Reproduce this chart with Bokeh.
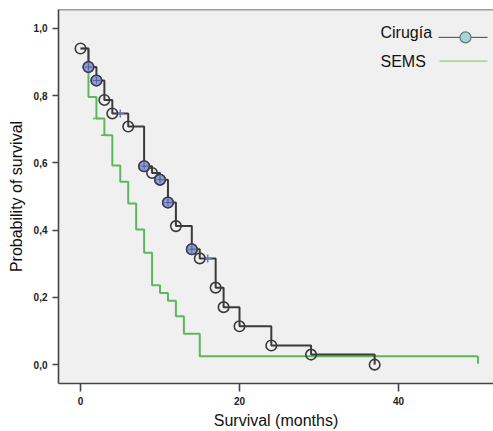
from bokeh.plotting import figure
from bokeh.models import Range1d, FixedTicker, CustomJSTickFormatter, Span
from bokeh.core.properties import value
from bokeh.embed import file_html
from bokeh.resources import INLINE

# ---------------- data ----------------
series_names = ["Cirugía", "SEMS"]

cir_times = [0, 1, 2, 3, 4, 6, 8, 9, 10, 11, 12, 14, 15, 17, 18, 20, 24, 29, 37]
cir_surv = [0.94, 0.885, 0.845, 0.787, 0.747, 0.708, 0.59, 0.57, 0.55, 0.482,
            0.412, 0.343, 0.316, 0.229, 0.171, 0.114, 0.057, 0.03, 0.0]
cir_marked_times = [1, 2, 8, 10, 11, 14]          # events with a censor mark on top
cir_censor_times = [5, 16]
cir_censor_surv = [0.747, 0.316]

sems_times = [0, 1, 2, 3, 4, 5, 6, 7, 8, 9, 10, 11, 12, 13, 15, 50]
sems_surv = [0.94, 0.796, 0.732, 0.682, 0.592, 0.544, 0.479, 0.402, 0.333,
             0.236, 0.213, 0.19, 0.144, 0.092, 0.025, 0.025]
sems_censor_times = [2, 3]
sems_censor_surv = [0.732, 0.682]

x_ticks = [0, 20, 40]
y_ticks = [0.0, 0.2, 0.4, 0.6, 0.8, 1.0]
x_title = "Survival (months)"
y_title = "Probability of survival"

# ---------------- layout / style ----------------
X0, X1 = -2.77, 51.95
Y0, Y1 = -0.056, 1.056
F_LEFT, F_RIGHT, F_TOP, F_BOTTOM = 58, 493, 9, 385  # page pixels of the frame

BLACK = "#3a3a3a"
GREEN = "#5cb85c"
FONT = "Liberation Sans"

p = figure(width=493, height=431, output_backend="svg", toolbar_location=None,
           x_range=Range1d(X0, X1), y_range=Range1d(Y0, Y1),
           min_border_left=58, min_border_top=9, min_border_right=0,
           min_border_bottom=46)
p.background_fill_color = "#f0f0f0"
p.border_fill_color = "white"
p.outline_line_color = None
p.xgrid.visible = False
p.ygrid.visible = False

for ax in (p.xaxis[0], p.yaxis[0]):
    ax.axis_line_color = "#444444"
    ax.axis_line_width = 1.6
    ax.major_tick_line_color = "#444444"
    ax.major_tick_line_width = 1.6
    ax.major_tick_in = 0
    ax.minor_tick_line_color = None
    ax.major_label_text_font = FONT
    ax.major_label_text_font_style = "bold"
    ax.major_label_text_font_size = "10px"
    ax.major_label_text_color = "#222222"
    ax.axis_label_text_font = FONT
    ax.axis_label_text_font_style = "normal"
    ax.axis_label_text_font_size = "16px"
    ax.axis_label_text_color = "#111111"

p.xaxis.ticker = FixedTicker(ticks=x_ticks)
p.yaxis.ticker = FixedTicker(ticks=y_ticks)
p.yaxis.formatter = CustomJSTickFormatter(code="return tick.toFixed(1).replace('.', ',');")
p.xaxis.major_tick_out = 8
p.yaxis.major_tick_out = 6
p.xaxis.major_label_standoff = 5
p.yaxis.major_label_standoff = 5
p.xaxis.axis_label = x_title
p.yaxis.axis_label = y_title
p.xaxis.axis_label_standoff = 4
p.yaxis.axis_label_standoff = 6

# top border of the frame
p.add_layout(Span(location=Y1, dimension="width", line_color="#444444", line_width=1.6))

# ---------------- curves ----------------
p.step(sems_times, sems_surv, mode="after", line_color=GREEN, line_width=2)
p.scatter(sems_censor_times, sems_censor_surv, marker="dash", size=7,
          line_color=GREEN, line_width=1.5)
tick_len = 0.022
p.segment(x0=[sems_times[-1]], y0=[sems_surv[-1]], x1=[sems_times[-1]],
          y1=[sems_surv[-1] - tick_len], line_color=GREEN, line_width=2)

p.step(cir_times, cir_surv, mode="after", line_color=BLACK, line_width=2)
p.scatter(cir_censor_times, cir_censor_surv, marker="cross", size=8,
          line_color="#6a74c0", line_width=1.5)
p.scatter(cir_times, cir_surv, marker="circle", size=10.5, fill_color=None,
          line_color=BLACK, line_width=1.6)
mx = [t for t in cir_times if t in cir_marked_times]
my = [s for t, s in zip(cir_times, cir_surv) if t in cir_marked_times]
p.scatter(mx, my, marker="circle", size=10.5, fill_color="#8d96cc",
          fill_alpha=0.9, line_color="#3a3a5a", line_width=1.5)
p.scatter(mx, my, marker="cross", size=7, line_color="#5560a8", line_width=1)

# ---------------- legend (label left, symbol right) ----------------
def px_x(px):
    return X0 + (px - F_LEFT) / (F_RIGHT - F_LEFT) * (X1 - X0)

def px_y(py):
    return Y1 - (py - F_TOP) / (F_BOTTOM - F_TOP) * (Y1 - Y0)

p.text(x=[px_x(380)] * 2, y=[px_y(32), px_y(61)], text=series_names,
       text_font=value(FONT), text_font_size="16px", text_color="#111111",
       text_align="left", text_baseline="middle")
p.line([px_x(438), px_x(487)], [px_y(37)] * 2, line_color="#444444", line_width=1)
p.scatter([px_x(465)], [px_y(37)], marker="circle", size=11,
          fill_color="#a9d4d8", line_color="#667777", line_width=1.2)
p.line([px_x(439), px_x(487)], [px_y(61)] * 2, line_color="#8fd36b", line_width=1.2)

open("out.html", "w").write(file_html(p, INLINE))
